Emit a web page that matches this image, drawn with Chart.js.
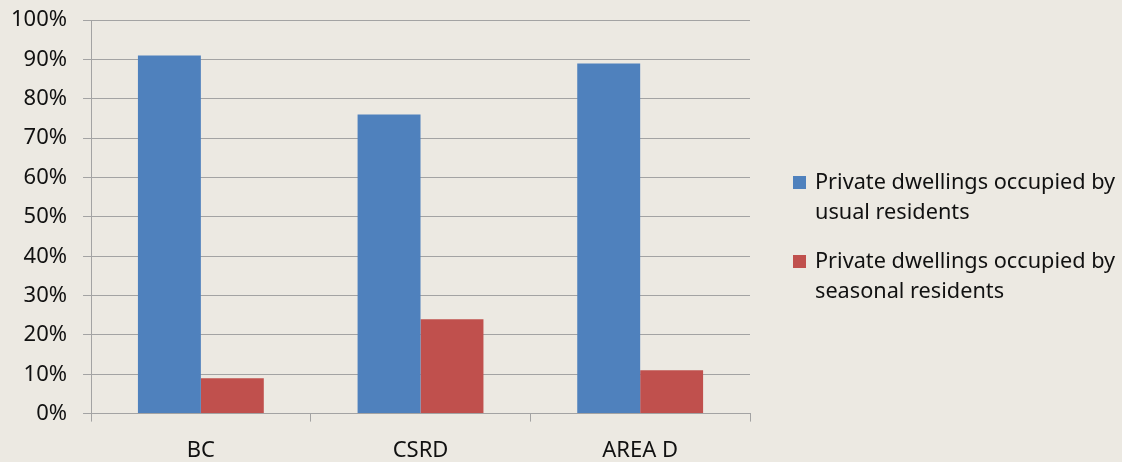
<!DOCTYPE html>
<html>
<head>
<meta charset="utf-8">
<script src="https://cdn.jsdelivr.net/npm/chart.js@4"></script>
<style>
  html, body { margin: 0; padding: 0; background: #ece9e2; }
  #wrap { position: relative; width: 1122px; height: 462px; overflow: hidden; }
  #chart { position: absolute; left: -5px; top: -9px; }
  #legend { position: absolute; left: 793px; top: 166px; width: 340px;
    font-family: "Noto Sans", sans-serif; font-size: 21.7px; color: #111; }
  .item { position: relative; padding-left: 22px; line-height: 30px; margin-bottom: 19px; white-space: nowrap; }
  .box { position: absolute; left: 0; top: 10px; width: 13px; height: 13px; }
</style>
</head>
<body>
<div id="wrap">
  <canvas id="chart" width="1127" height="489"></canvas>
  <div id="legend"></div>
</div>
<script>
// categories and series
const categories = ['BC', 'CSRD', 'AREA D'];
const usualResidents = [91, 76, 89];
const seasonalResidents = [9, 24, 11];
const seriesLabels = [
  ['Private dwellings occupied by', 'usual residents'],
  ['Private dwellings occupied by', 'seasonal residents']
];
const seriesColors = ['#4f81bd', '#c0504d'];

const gridColor = '#a3a3a3';
const font = { family: '"Noto Sans", sans-serif', size: 22 };

const chart = new Chart(document.getElementById('chart'), {
    type: 'bar',
    data: {
        labels: categories,
        datasets: [
            { label: seriesLabels[0].join(' '), data: usualResidents, backgroundColor: seriesColors[0] },
            { label: seriesLabels[1].join(' '), data: seasonalResidents, backgroundColor: seriesColors[1] }
        ]
    },
    options: {
        responsive: false,
        animation: false,
        layout: { padding: { left: 0, right: 372, top: 0, bottom: 0 } },
        datasets: { bar: { categoryPercentage: 0.573, barPercentage: 1 } },
        plugins: { legend: { display: false }, tooltip: { enabled: false } },
        scales: {
            x: {
                grid: { offset: true, drawOnChartArea: false, color: gridColor, tickLength: 8 },
                border: { color: gridColor },
                ticks: { color: '#111', font: font, padding: 16 }
            },
            y: {
                min: 0,
                max: 100,
                ticks: { stepSize: 10, color: '#111', font: font, padding: 16, callback: v => v + '%' },
                grid: { color: gridColor, tickLength: 8 },
                border: { color: gridColor }
            }
        }
    }
});

// легенда справа, с переносом строк как в оригинале
const legend = document.getElementById('legend');
legend.innerHTML = seriesLabels.map((lines, i) => `
    <div class="item">
        <span class="box" style="background:${seriesColors[i]}"></span>
        ${lines.join('<br>')}
    </div>
`).join('');
</script>
</body>
</html>
